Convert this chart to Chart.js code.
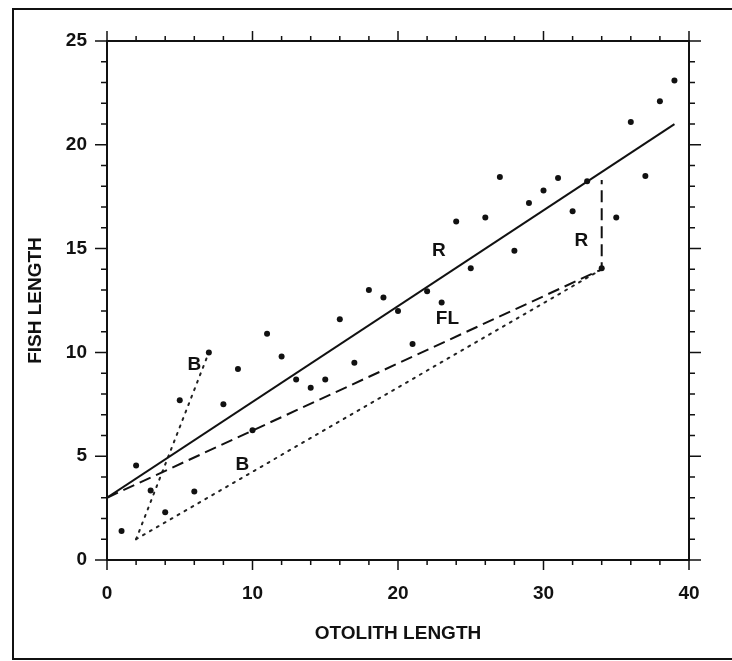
<!DOCTYPE html>
<html>
<head>
<meta charset="utf-8">
<script src="https://cdn.jsdelivr.net/npm/chart.js@4"></script>
<style>
  html, body { margin: 0; padding: 0; background: #fff; }
  #wrap { width: 732px; height: 661px; }
</style>
</head>
<body>
<div id="wrap"><canvas id="otolithChart" width="732" height="661"></canvas></div>
<script>
// otolith length vs fish length (scatter)
const otolith = [1, 2, 3, 4, 5, 6, 7, 8, 9, 10, 11, 12, 13, 14, 15, 16, 17, 18, 19, 20,
  21, 22, 23, 24, 25, 26, 27, 28, 29, 30, 31, 32, 33, 34, 35, 36, 37, 38, 39];
const fishLength = [1.4, 4.55, 3.35, 2.3, 7.7, 3.3, 10.0, 7.5, 9.2, 6.25, 10.9, 9.8, 8.7, 8.3, 8.7, 11.6, 9.5, 13.0, 12.65, 12.0,
  10.4, 12.95, 12.4, 16.3, 14.05, 16.5, 18.45, 14.9, 17.2, 17.8, 18.4, 16.8, 18.25, 14.05, 16.5, 21.1, 18.5, 22.1, 23.1];

// fitted / back-calculation lines
const rX = [0, 39];
const rY = [3, 21];
const flX = [0, 34, 34];
const flY = [3, 14, 18.3];
const bSteepX = [2, 7];
const bSteepY = [1, 10];
const bLowX = [2, 34];
const bLowY = [1, 14];

// curve labels
const labelText = ["R", "R", "FL", "B", "B"];
const labelX = [22.8, 32.6, 23.4, 6.0, 9.3];
const labelY = [14.9, 15.4, 11.6, 9.4, 4.6];

// axis ticks
const xTicks = [0, 10, 20, 30, 40];
const yTicks = [0, 5, 10, 15, 20, 25];

const FONT = "'Liberation Sans', Arial, Helvetica, sans-serif";
const FSIZE = 19;

function pts(xs, ys) {
  return xs.map((x, i) => ({ x: x, y: ys[i] }));
}

// minor/major tick marks, frame and curve labels
const decorations = {
  id: "decorations",
  afterDraw(chart) {
    const ctx = chart.ctx;
    const xs = chart.scales.x, ys = chart.scales.y;
    const a = chart.chartArea;
    ctx.save();
    ctx.strokeStyle = "#111";
    ctx.lineWidth = 2;
    // outer frame of the figure (right side runs off the page)
    ctx.strokeRect(13, 9, 740, 650);

    ctx.lineWidth = 1.5;
    for (let v = 0; v <= 40; v += 2) {
      const px = xs.getPixelForValue(v);
      const len = xTicks.includes(v) ? 10 : 5;
      ctx.beginPath();
      ctx.moveTo(px, a.bottom); ctx.lineTo(px, a.bottom + len);
      ctx.moveTo(px, a.top); ctx.lineTo(px, a.top - len);
      ctx.stroke();
    }
    for (let v = 0; v <= 25; v += 1) {
      const py = ys.getPixelForValue(v);
      const len = yTicks.includes(v) ? 12 : 6;
      ctx.beginPath();
      ctx.moveTo(a.left, py); ctx.lineTo(a.left - len, py);
      ctx.moveTo(a.right, py); ctx.lineTo(a.right + len, py);
      ctx.stroke();
    }

    ctx.fillStyle = "#111";
    ctx.font = "bold " + FSIZE + "px " + FONT;
    ctx.textAlign = "center";
    ctx.textBaseline = "middle";
    labelText.forEach((t, i) => {
      ctx.fillText(t, xs.getPixelForValue(labelX[i]), ys.getPixelForValue(labelY[i]));
    });
    ctx.restore();
  }
};

const ctx = document.getElementById("otolithChart").getContext("2d");

new Chart(ctx, {
  type: "scatter",
  data: {
    datasets: [
      {
        data: pts(otolith, fishLength),
        pointRadius: 3,
        pointBackgroundColor: "#111",
        pointBorderWidth: 0,
        showLine: false
      },
      {
        data: pts(rX, rY),
        showLine: true,
        borderColor: "#111",
        borderWidth: 2,
        pointRadius: 0
      },
      {
        data: pts(flX, flY),
        showLine: true,
        borderColor: "#111",
        borderWidth: 2,
        borderDash: [12, 6],
        pointRadius: 0
      },
      {
        data: pts(bSteepX, bSteepY),
        showLine: true,
        borderColor: "#222",
        borderWidth: 2,
        borderDash: [2, 6],
        borderCapStyle: "round",
        pointRadius: 0
      },
      {
        data: pts(bLowX, bLowY),
        showLine: true,
        borderColor: "#222",
        borderWidth: 2,
        borderDash: [2, 6],
        borderCapStyle: "round",
        pointRadius: 0
      }
    ]
  },
  options: {
    responsive: false,
    animation: false,
    layout: { padding: 0 },
    plugins: {
      legend: { display: false },
      tooltip: { enabled: false }
    },
    scales: {
      x: {
        type: "linear",
        position: "bottom",
        min: 0,
        max: 40,
        afterBuildTicks: s => { s.ticks = xTicks.map(v => ({ value: v })); },
        afterFit: s => { s.height = 101; },
        grid: { display: false },
        border: { display: true, color: "#111", width: 2 },
        ticks: {
          color: "#111",
          padding: 14,
          maxRotation: 0,
          font: { family: FONT, size: FSIZE, weight: "bold" }
        },
        title: {
          display: true,
          text: "OTOLITH LENGTH",
          color: "#111",
          padding: { top: 0, bottom: 16 },
          font: { family: FONT, size: FSIZE, weight: "bold" }
        }
      },
      x2: {
        type: "linear",
        position: "top",
        min: 0,
        max: 40,
        afterFit: s => { s.height = 41; },
        grid: { display: false },
        border: { display: true, color: "#111", width: 2 },
        ticks: { display: false }
      },
      y: {
        type: "linear",
        position: "left",
        min: 0,
        max: 25,
        afterBuildTicks: s => { s.ticks = yTicks.map(v => ({ value: v })); },
        afterFit: s => { s.width = 107; },
        grid: { display: false },
        border: { display: true, color: "#111", width: 2 },
        ticks: {
          color: "#111",
          padding: 12,
          font: { family: FONT, size: FSIZE, weight: "bold" }
        },
        title: {
          display: true,
          text: "FISH LENGTH",
          color: "#111",
          padding: { top: 24, bottom: 0 },
          font: { family: FONT, size: FSIZE, weight: "bold" }
        }
      },
      y2: {
        type: "linear",
        position: "right",
        min: 0,
        max: 25,
        afterFit: s => { s.width = 43; },
        grid: { display: false },
        border: { display: true, color: "#111", width: 2 },
        ticks: { display: false }
      }
    }
  },
  plugins: [decorations]
});
</script>
</body>
</html>
